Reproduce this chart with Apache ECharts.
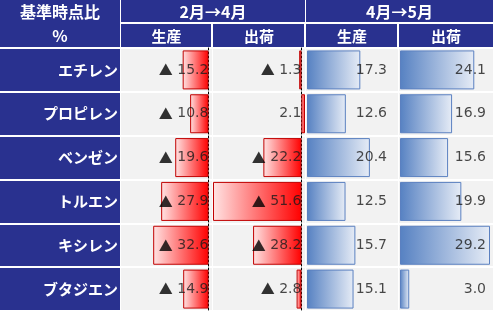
<!DOCTYPE html>
<html><head><meta charset="utf-8">
<script src="https://cdn.jsdelivr.net/npm/echarts@6/dist/echarts.min.js"></script>
<style>html,body{margin:0;padding:0;background:#fff}#c{width:493px;height:311px}</style>
</head><body><div id="c"></div>
<script>
const rows = ['エチレン','プロピレン','ベンゼン','トルエン','キシレン','ブタジエン'];
const prodFebApr = [-15.2,-10.8,-19.6,-27.9,-32.6,-14.9];
const shipFebApr = [-1.3, 2.1, -22.2, -51.6, -28.2, -2.8];
const prodAprMay = [17.3,12.6,20.4,12.5,15.7,15.1];
const shipAprMay = [24.1,16.9,15.6,19.9,29.2,3.0];
const cornerHeader = ['基準時点比','%'];
const groupHeaders = ['2月→4月','4月→5月'];
const subHeaders = ['生産','出荷','生産','出荷'];

const NAVY = '#29318f', CELL = '#f2f2f2';
const TOP = 48, H = 263;
const cols = [
  {left:121, width:91}, {left:213, width:92}, {left:306, width:92}, {left:399, width:94}
];
const redMin = Math.min(...prodFebApr, ...shipFebApr);
const redMax = Math.max(...prodFebApr, ...shipFebApr);
const blueScale = 90 / Math.max(...prodAprMay, ...shipAprMay); // px per unit
const bluePad = 1 / blueScale;
const xRanges = [
  [redMin, redMax], [redMin, redMax],
  [-bluePad, cols[2].width / blueScale - bluePad],
  [-bluePad, cols[3].width / blueScale - bluePad]
];
const series = [prodFebApr, shipFebApr, prodAprMay, shipAprMay];
const numFont = {fontFamily:'DejaVu Sans', fontSize:14, color:'#1a1a1a'};
const fmt = v => v < 0 ? '{t|▲} ' + Math.abs(v).toFixed(1) : v.toFixed(1);

const grids = [{left:0, top:TOP, width:120, height:H, show:true, backgroundColor:NAVY, borderWidth:0}];
const xAxes = [{gridIndex:0, type:'value', show:false}];
const yAxes = [{gridIndex:0, type:'category', data:rows, inverse:true, position:'right',
  axisLine:{show:false}, axisTick:{show:false},
  splitLine:{show:true, interval:0, lineStyle:{color:'#fff', width:2}},
  axisLabel:{inside:true, margin:2, color:'#fff', fontWeight:'bold', fontSize:15,
    fontFamily:'Noto Sans CJK JP'}}];
const ser = [];
const redGrad = {type:'linear', x:0, y:0, x2:1, y2:0, colorStops:[{offset:0,color:'#ffe4e4'},{offset:1,color:'#ff0000'}]};
const blueGrad = {type:'linear', x:0, y:0, x2:1, y2:0, colorStops:[{offset:0,color:'#5681c2'},{offset:1,color:'#e6ecf6'}]};
cols.forEach((c, i) => {
  const gi = i + 1;
  const red = i < 2;
  grids.push({left:c.left, top:TOP, width:c.width, height:H, show:true, backgroundColor:CELL, borderWidth:0});
  xAxes.push({gridIndex:gi, type:'value', min:xRanges[i][0], max:xRanges[i][1], show:false});
  yAxes.push({gridIndex:gi, type:'category', data:rows, inverse:true,
    axisLabel:{show:false}, axisTick:{show:false},
    axisLine:{show:red, onZero:true, lineStyle:{color:'#000', width:1, type:[2,2]}},
    splitLine:{show:true, interval:0, lineStyle:{color:'#fff', width:2}}});
  ser.push({type:'bar', xAxisIndex:gi, yAxisIndex:gi, barWidth:39, data:series[i],
    itemStyle:{color: red ? redGrad : blueGrad, borderColor: red ? '#c00000' : '#5b80c0', borderWidth:1}, z:2});
  const anchor = red ? 0 : xRanges[i][1];
  ser.push({type:'scatter', xAxisIndex:gi, yAxisIndex:gi, symbolSize:0.01, z:5,
    data: series[i].map((v, k) => [anchor, k]),
    label:{show:true, position:'left', distance: red ? 0 : (i === 2 ? 11 : 7),
      formatter: p => fmt(series[i][p.dataIndex]), ...numFont,
      rich:{t:{fontFamily:'Noto Sans CJK JP', fontSize:14, color:'#000'}}}});
});

const hdrText = (t, x, y, size) => ({type:'text', x, y, style:{text:t, fill:'#fff', font:'bold ' + size + 'px "Noto Sans CJK JP"', textAlign:'center', textVerticalAlign:'middle'}});
const graphic = [
  {type:'rect', shape:{x:0, y:0, width:120, height:47}, style:{fill:NAVY}},
  {type:'rect', shape:{x:121, y:0, width:184, height:22}, style:{fill:NAVY}},
  {type:'rect', shape:{x:306, y:0, width:187, height:22}, style:{fill:NAVY}},
];
cols.forEach(c => graphic.push({type:'rect', shape:{x:c.left, y:24, width:c.width - (c.left===399?0:1), height:23}, style:{fill:NAVY}}));
graphic.push(hdrText(cornerHeader[0], 60, 12, 16));
graphic.push(hdrText(cornerHeader[1], 60, 36, 16));
graphic.push(hdrText(groupHeaders[0], 213, 12, 16));
graphic.push(hdrText(groupHeaders[1], 399.5, 12, 16));
cols.forEach((c, i) => graphic.push(hdrText(subHeaders[i], c.left + c.width / 2, 36, 15)));

const chart = echarts.init(document.getElementById('c'), null, {renderer:'canvas'});
chart.setOption({animation:false, backgroundColor:'#fff', grid:grids, xAxis:xAxes, yAxis:yAxes, series:ser, graphic});
</script></body></html>
